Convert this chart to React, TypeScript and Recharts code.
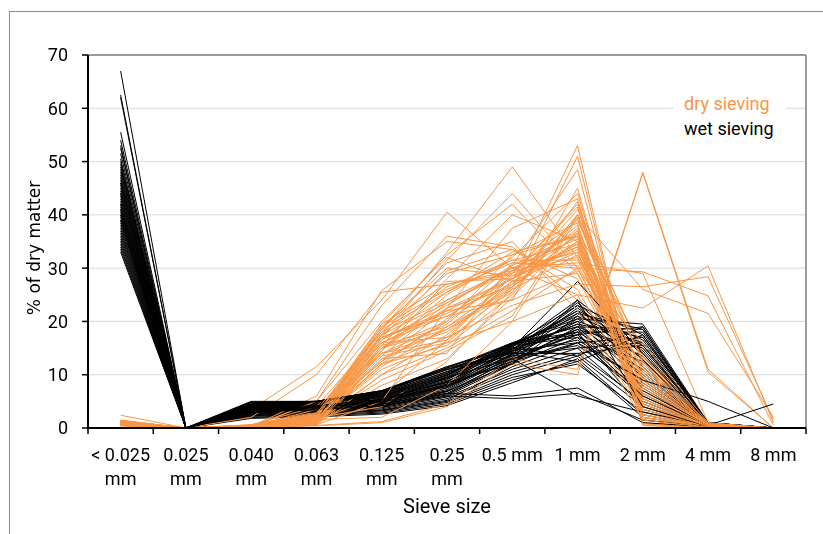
import React from 'react';
import { LineChart, Line, XAxis, YAxis, CartesianGrid, ReferenceLine } from 'recharts';

const categories = ['< 0.025 mm', '0.025 mm', '0.040 mm', '0.063 mm', '0.125 mm', '0.25 mm', '0.5 mm', '1 mm', '2 mm', '4 mm', '8 mm'];
const tickLabelLines = [['< 0.025', 'mm'], ['0.025', 'mm'], ['0.040', 'mm'], ['0.063', 'mm'], ['0.125', 'mm'], ['0.25', 'mm'], ['0.5 mm'], ['1 mm'], ['2 mm'], ['4 mm'], ['8 mm']];
const yTicks = [0, 10, 20, 30, 40, 50, 60, 70];
const seriesNames = ['dry sieving', 'wet sieving'];

// dry sieving samples (orange)
const drySieving: number[][] = [
  [0.5, 0, 0.2, 1.0, 14.0, 18.0, 27.0, 35.0, 4.0, 0.2, 0],
  [1.0, 0, 0.3, 1.5, 16.0, 22.0, 28.0, 38.0, 3.0, 0.1, 0],
  [0.8, 0, 0.2, 1.2, 12.0, 15.5, 25.0, 40.0, 5.0, 0.3, 0],
  [1.2, 0, 0.4, 2.0, 18.0, 24.0, 30.0, 33.0, 2.5, 0.2, 0],
  [0.6, 0, 0.1, 0.8, 13.5, 16.0, 26.5, 36.5, 6.0, 0.3, 0],
  [1.5, 0, 0.5, 2.5, 19.0, 26.0, 31.0, 30.0, 7.0, 0.5, 0],
  [0.9, 0, 0.3, 1.8, 15.0, 20.0, 29.0, 42.0, 1.5, 0.1, 0],
  [2.4, 0, 0.6, 3.0, 17.0, 21.0, 24.0, 45.0, 2.0, 0.2, 0],
  [0.4, 0, 0.1, 0.5, 10.0, 17.5, 27.5, 53.0, 0.5, 0.0, 0],
  [0.7, 0, 0.2, 1.1, 11.5, 19.0, 26.0, 51.0, 1.0, 0.1, 0],
  [1.1, 0, 0.4, 2.2, 16.5, 23.0, 30.5, 48.5, 1.5, 0.2, 0],
  [1.3, 0, 0.3, 1.6, 14.5, 25.0, 32.0, 44.0, 3.5, 0.3, 0],
  [0.5, 0, 2.0, 10.0, 25.5, 27.0, 29.0, 34.0, 8.0, 0.5, 0],
  [0.8, 0, 0.3, 6.0, 25.8, 35.0, 33.5, 28.0, 5.0, 0.3, 0],
  [1.0, 0, 3.5, 11.5, 24.0, 40.5, 30.0, 25.0, 3.0, 0.2, 0],
  [0.6, 0, 0.2, 5.0, 23.0, 36.0, 34.0, 24.0, 2.0, 0.1, 0],
  [1.4, 0, 0.4, 2.0, 18.5, 33.0, 49.0, 32.0, 4.0, 0.3, 0],
  [0.9, 0, 0.3, 1.3, 17.5, 31.5, 44.0, 30.0, 6.0, 0.4, 0],
  [1.2, 0, 0.5, 2.8, 19.5, 32.5, 42.0, 29.0, 5.5, 0.3, 0],
  [0.7, 0, 0.2, 0.7, 15.5, 28.0, 40.0, 35.0, 4.5, 0.2, 0],
  [1.0, 0, 0.3, 1.7, 12.5, 22.5, 37.5, 43.0, 2.5, 0.1, 0],
  [0.5, 0, 0.1, 0.6, 13.0, 14.0, 31.0, 30.5, 10.0, 0.5, 0],
  [1.1, 0, 0.4, 2.4, 16.0, 17.0, 28.5, 36.0, 9.0, 0.4, 0],
  [0.8, 0, 0.2, 1.2, 14.0, 19.5, 29.5, 39.0, 12.0, 0.6, 0],
  [1.3, 0, 0.5, 2.6, 17.0, 21.5, 27.0, 41.0, 13.5, 0.8, 0],
  [0.6, 0, 0.2, 0.9, 8.0, 13.0, 24.5, 37.0, 15.0, 1.0, 0],
  [0.9, 0, 0.3, 1.5, 6.0, 16.5, 26.0, 32.5, 11.0, 0.7, 0],
  [1.0, 0, 0.4, 1.9, 4.0, 12.5, 25.5, 40.0, 14.0, 0.9, 0],
  [0.4, 0, 0.1, 0.4, 1.0, 4.0, 12.0, 10.0, 48.0, 11.0, 0],
  [0.5, 0, 0.1, 0.5, 1.2, 4.5, 13.0, 11.0, 47.8, 10.5, 0],
  [0.7, 0, 0.2, 1.0, 10.0, 15.0, 22.0, 30.0, 29.3, 24.8, 0.5],
  [0.8, 0, 0.3, 1.1, 11.0, 16.0, 20.0, 25.0, 22.5, 30.4, 1.0],
  [0.6, 0, 0.2, 0.8, 12.0, 17.0, 23.0, 27.0, 26.5, 28.4, 1.5],
  [0.9, 0, 0.3, 1.2, 9.0, 14.5, 21.0, 40.0, 26.0, 21.5, 2.0],
  [1.0, 0, 0.4, 1.5, 15.0, 24.0, 30.0, 31.0, 29.0, 1.0, 0],
  [1.2, 0, 0.5, 2.0, 17.5, 26.5, 31.5, 34.5, 1.0, 0.1, 0],
  [0.5, 0, 0.2, 0.7, 14.5, 27.5, 28.0, 37.5, 0.8, 0.1, 0],
  [1.4, 0, 0.6, 4.0, 18.0, 29.0, 32.5, 38.5, 0.5, 0.0, 0],
  [1.1, 0, 0.3, 1.4, 16.5, 25.5, 33.0, 36.0, 2.0, 0.2, 0],
  [0.6, 0, 0.2, 0.9, 13.5, 23.5, 30.0, 35.5, 7.5, 0.5, 0],
  [1.0, 0, 0.4, 1.8, 19.0, 30.0, 28.5, 33.5, 9.5, 0.6, 0],
  [0.8, 0, 0.3, 5.0, 20.0, 32.0, 27.5, 29.0, 6.5, 0.4, 0],
  [1.3, 0, 0.5, 2.3, 15.0, 18.5, 26.5, 42.5, 4.0, 0.3, 0],
  [0.7, 0, 0.2, 1.0, 12.0, 20.5, 30.5, 36.5, 8.5, 0.5, 0],
  [0.9, 0, 0.3, 3.5, 17.0, 22.0, 24.0, 29.5, 16.0, 1.0, 0],
  [0.5, 0, 0.1, 0.6, 5.0, 22.5, 28.0, 34.0, 3.0, 0.2, 0],
  [1.2, 0, 0.4, 1.6, 2.0, 8.0, 20.0, 39.5, 12.5, 0.8, 0],
  [1.0, 0, 0.3, 1.3, 18.5, 31.0, 35.0, 22.0, 1.5, 0.1, 0],
  [0.9, 0, 0.3, 1.4, 15.5, 19.0, 27.5, 33.0, 5.5, 0.3, 0],
  [1.1, 0, 0.4, 2.1, 17.5, 23.5, 29.5, 37.0, 3.5, 0.2, 0],
  [0.6, 0, 0.2, 0.8, 13.0, 18.5, 25.5, 39.5, 6.5, 0.4, 0],
  [1.4, 0, 0.5, 2.7, 18.5, 25.5, 31.5, 31.5, 8.0, 0.5, 0],
  [0.7, 0, 0.2, 1.1, 16.0, 21.0, 28.0, 34.5, 10.5, 0.6, 0],
  [1.0, 0, 0.3, 1.6, 14.0, 16.5, 29.0, 41.5, 2.0, 0.1, 0],
  [1.2, 0, 0.4, 1.9, 12.5, 20.0, 32.5, 36.0, 0.8, 0.0, 0],
  [0.8, 0, 0.3, 1.3, 17.0, 29.5, 33.5, 26.0, 4.5, 0.3, 0],
  [0.5, 0, 0.1, 0.7, 15.0, 22.5, 26.5, 35.0, 13.0, 0.9, 0],
  [1.3, 0, 0.5, 2.2, 19.5, 27.0, 29.5, 32.0, 11.5, 0.7, 0],
];

// wet sieving samples (black)
const wetSieving: number[][] = [
  [67.0, 0, 2.0, 2.3, 2.8, 4.5, 9.0, 12.5, 2.0, 0.2, 0],
  [62.5, 0, 1.8, 2.1, 2.6, 4.2, 8.5, 13.0, 2.5, 0.1, 0],
  [62.0, 0, 2.0, 2.4, 3.0, 4.8, 9.5, 12.0, 3.0, 0.2, 0],
  [55.5, 0, 2.2, 2.6, 3.2, 5.0, 10.0, 13.5, 4.0, 0.3, 0],
  [54.0, 0, 2.4, 2.8, 3.4, 5.5, 10.5, 14.0, 5.0, 0.3, 0],
  [53.0, 0, 2.5, 2.9, 3.6, 5.8, 11.0, 15.0, 4.5, 0.2, 0],
  [52.5, 0, 2.3, 2.7, 3.3, 5.2, 11.5, 16.0, 6.0, 0.4, 0],
  [51.5, 0, 2.6, 3.0, 3.8, 6.0, 12.0, 17.0, 5.5, 0.3, 0],
  [50.5, 0, 2.8, 3.2, 4.0, 6.2, 12.5, 18.0, 3.5, 0.2, 0],
  [50.0, 0, 3.0, 3.4, 4.2, 6.5, 13.0, 15.5, 7.0, 0.5, 0],
  [49.5, 0, 2.7, 3.1, 3.9, 6.8, 12.8, 18.5, 6.5, 0.3, 0],
  [49.0, 0, 3.1, 3.5, 4.4, 7.0, 13.5, 17.5, 8.0, 0.4, 0],
  [48.5, 0, 2.9, 3.3, 4.1, 6.4, 12.2, 19.0, 7.5, 0.3, 0],
  [48.0, 0, 3.3, 3.7, 4.6, 7.2, 14.0, 16.5, 9.0, 0.5, 0],
  [47.5, 0, 3.0, 3.6, 4.5, 7.5, 13.8, 20.0, 8.5, 0.4, 0],
  [47.0, 0, 3.4, 3.9, 4.8, 7.8, 14.5, 19.5, 10.0, 0.6, 0],
  [46.5, 0, 3.2, 3.6, 4.3, 6.9, 12.0, 21.0, 9.5, 0.5, 0],
  [46.0, 0, 3.5, 4.0, 5.0, 8.0, 15.0, 18.0, 11.0, 0.5, 0],
  [45.5, 0, 3.6, 4.1, 5.2, 8.3, 14.8, 22.0, 10.5, 0.4, 0],
  [45.0, 0, 3.3, 3.8, 4.7, 7.6, 13.2, 20.5, 12.0, 0.6, 0],
  [44.5, 0, 3.7, 4.2, 5.3, 8.6, 15.5, 17.0, 12.5, 0.7, 0],
  [44.0, 0, 3.8, 4.3, 5.5, 8.8, 14.2, 23.0, 11.5, 0.5, 0],
  [43.5, 0, 3.5, 4.0, 4.9, 7.9, 13.6, 21.5, 13.0, 0.6, 0],
  [43.0, 0, 3.9, 4.4, 5.6, 9.0, 15.8, 19.0, 13.5, 0.8, 0],
  [42.5, 0, 4.0, 4.5, 5.8, 9.2, 14.6, 23.5, 12.8, 0.5, 0],
  [42.0, 0, 3.6, 4.2, 5.1, 8.2, 13.9, 22.5, 14.0, 0.7, 0],
  [41.5, 0, 4.1, 4.6, 5.9, 9.5, 15.2, 24.0, 14.5, 0.6, 0],
  [41.0, 0, 3.7, 4.1, 5.4, 8.7, 14.4, 18.5, 15.0, 0.9, 0],
  [40.5, 0, 4.2, 4.7, 6.0, 9.8, 15.6, 21.0, 15.5, 0.7, 0],
  [40.0, 0, 3.9, 4.4, 5.7, 9.3, 15.0, 27.5, 14.0, 0.5, 0],
  [39.5, 0, 4.3, 4.8, 6.2, 10.0, 15.9, 20.0, 16.0, 0.8, 0],
  [39.0, 0, 4.0, 4.5, 5.9, 9.6, 15.3, 22.0, 16.5, 0.6, 0],
  [38.5, 0, 4.4, 4.9, 6.3, 10.3, 14.8, 19.5, 17.0, 0.9, 0],
  [38.0, 0, 4.1, 4.7, 6.1, 9.9, 15.7, 23.0, 17.5, 0.7, 0],
  [37.5, 0, 4.5, 5.0, 6.5, 10.6, 16.0, 18.0, 18.0, 1.0, 0],
  [37.0, 0, 4.2, 4.8, 6.4, 10.2, 15.4, 21.5, 18.5, 0.8, 0],
  [36.5, 0, 4.6, 5.0, 6.7, 10.9, 15.8, 17.5, 19.0, 0.9, 0],
  [36.0, 0, 4.8, 5.0, 6.9, 11.2, 16.0, 20.5, 19.5, 1.0, 0],
  [35.5, 0, 4.3, 4.9, 6.6, 10.5, 14.5, 16.0, 17.0, 1.0, 0],
  [35.0, 0, 5.0, 5.0, 7.0, 11.5, 15.5, 19.0, 18.5, 0.8, 0],
  [34.5, 0, 4.4, 4.8, 6.8, 11.0, 13.5, 15.0, 16.0, 0.9, 0],
  [34.0, 0, 4.7, 5.0, 6.9, 11.3, 14.0, 14.0, 15.5, 1.0, 0],
  [33.5, 0, 4.5, 4.9, 7.0, 11.5, 15.0, 13.5, 19.0, 0.8, 0],
  [33.0, 0, 4.9, 5.0, 7.0, 11.0, 14.2, 12.5, 17.5, 1.0, 0],
  [44.0, 0, 3.2, 3.6, 4.5, 6.5, 6.0, 7.5, 1.0, 0.2, 0],
  [46.0, 0, 3.0, 3.4, 4.2, 6.0, 5.5, 6.5, 1.5, 0.3, 0],
  [41.0, 0, 3.5, 3.9, 5.0, 9.5, 13.0, 6.0, 3.0, 0.5, 0],
  [40.0, 0, 3.6, 4.0, 5.2, 8.0, 12.5, 16.0, 9.0, 5.0, 0],
  [42.0, 0, 3.4, 3.8, 4.8, 7.8, 13.0, 17.5, 6.0, 0.5, 4.5],
  [39.0, 0, 3.8, 4.2, 5.4, 8.5, 12.0, 24.0, 4.0, 0.3, 0],
];

const DRY_COLOR = '#F79646';
const WET_COLOR = '#000000';
const NARROW = "'Liberation Sans Narrow', Roboto, sans-serif";

const data = categories.map((cat, i) => {
  const row: Record<string, number | string> = { cat };
  drySieving.forEach((s, k) => { row[`d${k}`] = s[i]; });
  wetSieving.forEach((s, k) => { row[`w${k}`] = s[i]; });
  return row;
});

const CHART_W = 807;
const CHART_H = 518;
const MARGIN = { top: 47, right: 9, left: 20, bottom: 8 };
const PLOT_W = CHART_W - MARGIN.left - 60 - MARGIN.right;
const HALF_BAND = PLOT_W / categories.length / 2;

function XTick(props: any) {
  const { x, y, payload } = props;
  const idx = categories.indexOf(payload.value);
  const lines = tickLabelLines[idx] || [String(payload.value)];
  const last = idx === categories.length - 1;
  return (
    <g>
      <line x1={x - HALF_BAND} y1={y} x2={x - HALF_BAND} y2={y + 6} stroke="#000" strokeWidth={1.5} />
      {last && <line x1={x + HALF_BAND} y1={y} x2={x + HALF_BAND} y2={y + 6} stroke="#000" strokeWidth={1.5} />}
      <text x={x} y={y + 33} textAnchor="middle" fontSize={18} fontFamily={NARROW} fill="#000">
        {lines.map((l, j) => (
          <tspan key={j} x={x} dy={j === 0 ? 0 : 24}>{l}</tspan>
        ))}
      </text>
    </g>
  );
}

const order: { key: string; color: string }[] = [];
const maxN = Math.max(drySieving.length, wetSieving.length);
for (let k = 0; k < maxN; k++) {
  if (k < drySieving.length) order.push({ key: `d${k}`, color: DRY_COLOR });
  if (k < wetSieving.length) order.push({ key: `w${k}`, color: WET_COLOR });
}

export default function App() {
  return (
    <div style={{ position: 'relative', width: CHART_W, height: CHART_H }}>
      <div style={{ position: 'fixed', left: 9, top: 11, width: 900, height: 700, borderLeft: '1px solid #8c8c8c', borderTop: '1px solid #8c8c8c', pointerEvents: 'none' }} />
      <LineChart width={CHART_W} height={CHART_H} data={data} margin={MARGIN}>
        <CartesianGrid vertical={false} stroke="#d9d9d9" strokeWidth={1} />
        <XAxis
          dataKey="cat"
          scale="band"
          interval={0}
          tickLine={false}
          tickSize={0}
          tickMargin={0}
          height={90}
          axisLine={{ stroke: '#000', strokeWidth: 2 }}
          tick={<XTick />}
          label={{ value: 'Sieve size', position: 'insideBottom', offset: 5, fontSize: 20, fontFamily: NARROW, fill: '#000' }}
        />
        <YAxis
          domain={[0, 70]}
          ticks={yTicks}
          width={60}
          tickSize={6}
          tickMargin={14}
          axisLine={{ stroke: '#000', strokeWidth: 2 }}
          tickLine={{ stroke: '#000', strokeWidth: 1.5 }}
          tick={{ fontSize: 18, fontFamily: NARROW, fill: '#000' }}
          label={{
            content: () => (
              <text transform="rotate(-90)" x={-240} y={32} textAnchor="middle" fontSize={17} fontFamily="'DejaVu Sans', Verdana, sans-serif" fill="#000">
                % of dry matter
              </text>
            ),
          }}
        />
        <ReferenceLine y={70} stroke="#7f7f7f" strokeWidth={1.5} />
        <ReferenceLine x="8 mm" position="end" stroke="#7f7f7f" strokeWidth={1.5} />
        {order.map((o) => (
          <Line
            key={o.key}
            dataKey={o.key}
            stroke={o.color}
            strokeWidth={1}
            dot={false}
            activeDot={false}
            isAnimationActive={false}
            legendType="none"
          />
        ))}
      </LineChart>
      <div style={{ position: 'absolute', left: 666, top: 83, width: 112, height: 50, background: '#fff', fontFamily: NARROW, fontSize: 18, lineHeight: '25px', paddingLeft: 10, boxSizing: 'border-box' }}>
        <div style={{ color: DRY_COLOR }}>{seriesNames[0]}</div>
        <div style={{ color: '#000' }}>{seriesNames[1]}</div>
      </div>
    </div>
  );
}
